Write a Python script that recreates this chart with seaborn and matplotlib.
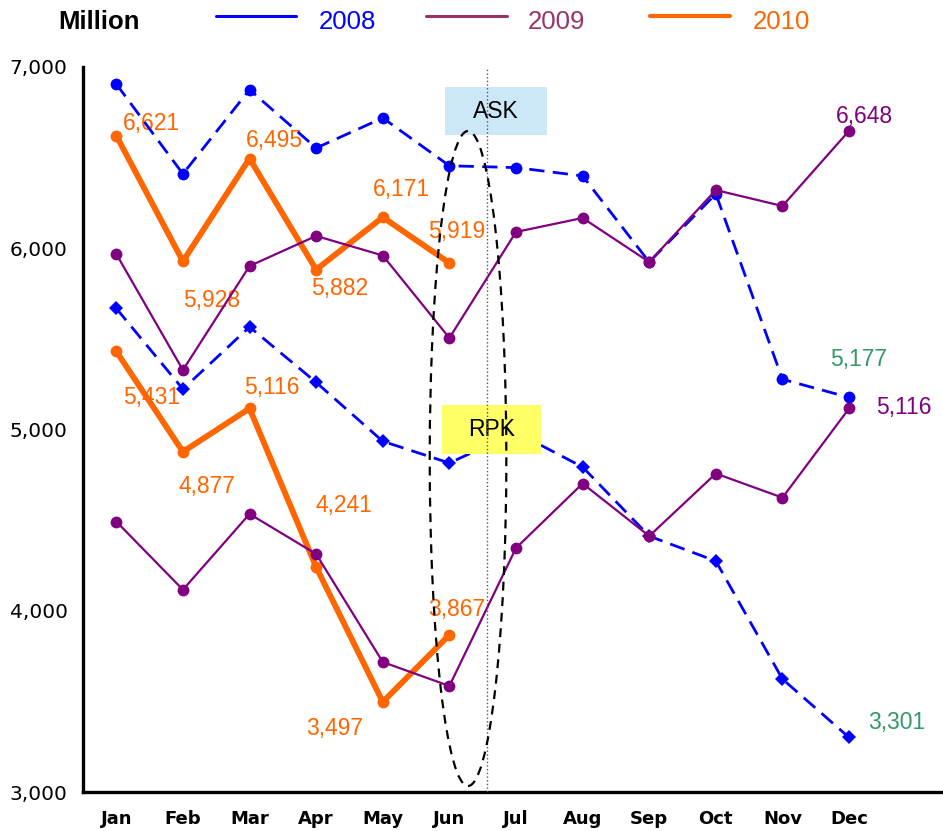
import numpy as np
import pandas as pd
import seaborn as sns
import matplotlib.pyplot as plt
from matplotlib.patches import Ellipse, Rectangle
from matplotlib.lines import Line2D

# ---- data (million) ----
months = ["Jan", "Feb", "Mar", "Apr", "May", "Jun",
          "Jul", "Aug", "Sep", "Oct", "Nov", "Dec"]
years = ["2008", "2009", "2010"]

ask_2008 = [6906, 6410, 6875, 6553, 6719, 6455, 6445, 6399, 5924, 6300, 5277, 5177]
ask_2009 = [5968, 5328, 5902, 6068, 5960, 5505, 6090, 6167, 5924, 6321, 6233, 6648]
ask_2010 = [6621, 5928, 6495, 5882, 6171, 5919]

rpk_2008 = [5668, 5223, 5566, 5260, 4935, 4815, 4985, 4793, 4412, 4274, 3623, 3301]
rpk_2009 = [4492, 4116, 4534, 4313, 3717, 3585, 4346, 4702, 4412, 4757, 4624, 5116]
rpk_2010 = [5431, 4877, 5116, 4241, 3497, 3867]

y_ticks = [3000, 4000, 5000, 6000, 7000]

series = {
    ("ASK", "2008"): ask_2008, ("ASK", "2009"): ask_2009, ("ASK", "2010"): ask_2010,
    ("RPK", "2008"): rpk_2008, ("RPK", "2009"): rpk_2009, ("RPK", "2010"): rpk_2010,
}
rows = []
for (metric, year), vals in series.items():
    for i, v in enumerate(vals):
        rows.append({"metric": metric, "year": year, "pos": i,
                     "month": months[i], "value": v})
df = pd.DataFrame(rows)

# ---- styles ----
line_color = {"2008": "#0000FF", "2009": "#800080", "2010": "#FF6600"}
legend_color = {"2008": "#0000FF", "2009": "#993366", "2010": "#FF6600"}
line_width = {"2008": 2.0, "2009": 1.6, "2010": 4.2}
line_style = {"2008": (0, (5.5, 3)), "2009": "-", "2010": "-"}
z_order = {"2008": 3, "2010": 4, "2009": 5}
marker_of = {("ASK", "2008"): "o", ("RPK", "2008"): "D"}
PX = 0.72  # points per pixel at 100 dpi

sns.set_style("white")
plt.rcParams.update({
    "font.family": ["DejaVu Sans"],
    "text.color": "black",
    "xtick.color": "black",
    "ytick.color": "black",
    "axes.labelcolor": "black",
})

fig = plt.figure(figsize=(9.43, 8.31), dpi=100)
ax = fig.add_axes([83 / 943, 39 / 831, (943 - 83) / 943, (792 - 67) / 831])

for metric in ["ASK", "RPK"]:
    for year in ["2008", "2010", "2009"]:
        sub = df[(df.metric == metric) & (df.year == year)]
        mk = marker_of.get((metric, year), "o")
        sns.lineplot(data=sub, x="pos", y="value", ax=ax, sort=False,
                     estimator=None, color=line_color[year],
                     linewidth=line_width[year], linestyle=line_style[year],
                     marker=mk, markersize=7.2 if mk == "D" else 8.5,
                     markeredgewidth=0, zorder=z_order[year])

# ---- value labels (offsets in pixels: right, up) ----
lab_font = ["Liberation Sans", "DejaVu Sans"]


def put_label(xi, val, dx, dy, color):
    ax.annotate(f"{val:,}", (xi, val), xytext=(dx * PX, dy * PX),
                textcoords="offset points", ha="center", va="center",
                fontsize=16.5, color=color, family=lab_font, zorder=1)


ask_2010_off = [(35, 12), (29, -39), (25, 18), (24, -19), (19, 28), (7, 31)]
rpk_2010_off = [(35, -46), (24, -35), (22, 21), (28, 62), (-48, -27), (7, 25)]
for i, (v, o) in enumerate(zip(ask_2010, ask_2010_off)):
    put_label(i, v, *o, "#FF6600")
for i, (v, o) in enumerate(zip(rpk_2010, rpk_2010_off)):
    put_label(i, v, *o, "#FF6600")

put_label(11, ask_2009[-1], 15, 14, "#800080")
put_label(11, ask_2008[-1], 10, 38, "#339966")
put_label(11, rpk_2009[-1], 55, 1, "#800080")
put_label(11, rpk_2008[-1], 48, 15, "#339966")

# ---- ASK / RPK tags, divider and highlight ring ----
ax.add_patch(Rectangle((5.70 - 0.765, 6757 - 132), 1.53, 264,
                       facecolor="#CCE8F8", edgecolor="none", zorder=6))
ax.text(5.70, 6757, "ASK", ha="center", va="center", fontsize=16.5,
        family=lab_font, color="black", zorder=6.5)
ax.add_patch(Rectangle((5.63 - 0.745, 5000 - 135), 1.49, 270,
                       facecolor="#FFFF66", edgecolor="none", zorder=6))
ax.text(5.63, 5000, "RPK", ha="center", va="center", fontsize=16.5,
        family=lab_font, color="black", zorder=6.5)

ax.axvline(5.56, color="#555555", linestyle=":", linewidth=1.0, zorder=7)
ax.add_patch(Ellipse((5.28, 4840), 1.15, 3614, fill=False, edgecolor="black",
                     linewidth=1.6, linestyle=(0, (4, 3)), zorder=7))

# ---- axes ----
ax.set_xlim(-0.5, 12.41)
ax.set_ylim(3000, 7000)
ax.set_xlabel("")
ax.set_ylabel("")
ax.set_xticks(range(len(months)))
ax.set_xticklabels(months, fontweight="bold", fontsize=13)
ax.set_xticks(np.arange(-0.5, 12, 1), minor=True)
ax.set_yticks(y_ticks)
ax.set_yticklabels([f"{t:,}" for t in y_ticks], fontsize=14.5)
ax.tick_params(axis="x", which="major", length=0, pad=13)
ax.tick_params(axis="x", which="minor", length=4.5, width=2.2, direction="out",
               color="black")
ax.tick_params(axis="y", length=4, width=2.2, direction="out", pad=7,
               color="black")
for side in ["top", "right"]:
    ax.spines[side].set_visible(False)
for side in ["left", "bottom"]:
    ax.spines[side].set_linewidth(2.4)
    ax.spines[side].set_color("black")
ax.grid(False)

# ---- header legend ----
H = 831
fig.text(58 / 943, 1 - 22 / H, "Million", fontsize=18.5, fontweight="bold",
         family=lab_font, va="center", ha="left", color="black")
leg_pos = {"2008": (216, 296, 319), "2009": (426, 507, 528), "2010": (650, 730, 753)}
for year in years:
    x0, x1, xt = leg_pos[year]
    fig.add_artist(Line2D([x0 / 943, x1 / 943], [1 - 16 / H, 1 - 16 / H],
                          transform=fig.transFigure, color=legend_color[year],
                          linewidth=3.0 if year == "2010" else 2.2))
    fig.text(xt / 943, 1 - 22 / H, year, fontsize=18.5, family=lab_font,
             color=legend_color[year], va="center", ha="left")

fig.savefig("out.png", dpi=100)
